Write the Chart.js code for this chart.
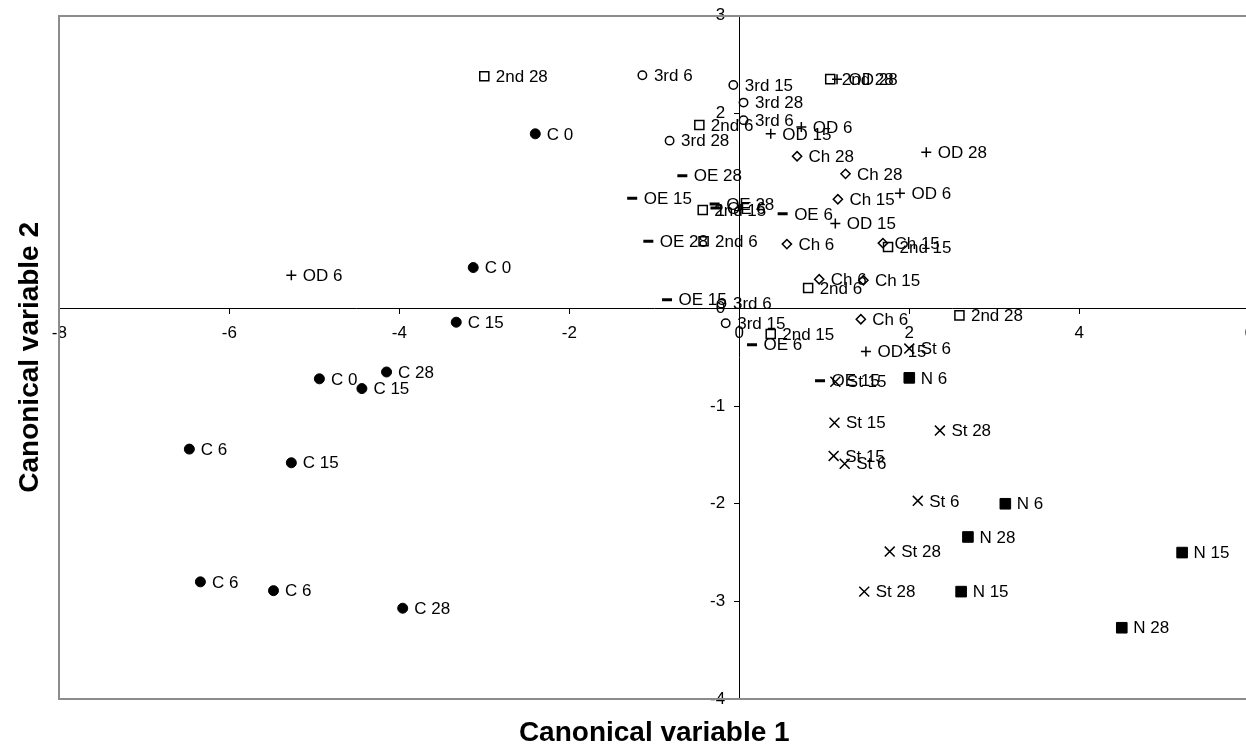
<!DOCTYPE html>
<html>
<head>
<meta charset="utf-8">
<script src="https://cdn.jsdelivr.net/npm/chart.js@4/dist/chart.umd.min.js"></script>
<style>
  html, body { margin: 0; padding: 0; background: #fff; overflow: hidden; }
  #wrap { width: 1264px; height: 749px; }
</style>
</head>
<body>
<div id="wrap"><canvas id="c" width="1264" height="749"></canvas></div>
<script>
// ---- Data ----
const xTickStep = 2;
const yTickStep = 1;
const xRange = [-8, 6];
const yRange = [-4, 3];
const xTitle = 'Canonical variable 1';
const yTitle = 'Canonical variable 2';

const cX = [-2.40, -3.13, -3.33, -4.94, -4.15, -4.44, -6.47, -5.27, -6.34, -5.48, -3.96];
const cY = [1.79, 0.42, -0.14, -0.72, -0.65, -0.82, -1.44, -1.58, -2.80, -2.89, -3.07];
const cLabels = ['C 0', 'C 0', 'C 15', 'C 0', 'C 28', 'C 15', 'C 6', 'C 15', 'C 6', 'C 6', 'C 28'];

const thirdX = [-1.14, -0.82, -0.07, 0.05, 0.05, -0.21, -0.16];
const thirdY = [2.39, 1.72, 2.29, 2.11, 1.93, 0.05, -0.15];
const thirdLabels = ['3rd 6', '3rd 28', '3rd 15', '3rd 28', '3rd 6', '3rd 6', '3rd 15'];

const secondX = [-3.00, -0.47, 1.07, -0.43, -0.42, 1.75, 0.81, 0.37, 2.59];
const secondY = [2.38, 1.88, 2.35, 1.01, 0.69, 0.63, 0.21, -0.26, -0.07];
const secondLabels = ['2nd 28', '2nd 6', '2nd 28', '2nd 15', '2nd 6', '2nd 15', '2nd 6', '2nd 15', '2nd 28'];

const oeX = [-0.67, -1.26, -0.29, -0.28, 0.51, -1.07, -0.85, 0.15, 0.95];
const oeY = [1.36, 1.13, 1.07, 1.03, 0.97, 0.69, 0.09, -0.37, -0.74];
const oeLabels = ['OE 28', 'OE 15', 'OE 28', 'OE 6', 'OE 6', 'OE 28', 'OE 15', 'OE 6', 'OE 15'];

const odX = [-5.27, 1.15, 0.37, 0.73, 2.20, 1.89, 1.13, 1.49];
const odY = [0.34, 2.35, 1.79, 1.86, 1.60, 1.18, 0.87, -0.44];
const odLabels = ['OD 6', 'OD 28', 'OD 15', 'OD 6', 'OD 28', 'OD 6', 'OD 15', 'OD 15'];

const chX = [0.68, 1.25, 1.16, 0.56, 1.69, 0.94, 1.46, 1.43];
const chY = [1.56, 1.38, 1.12, 0.66, 0.67, 0.30, 0.29, -0.11];
const chLabels = ['Ch 28', 'Ch 28', 'Ch 15', 'Ch 6', 'Ch 15', 'Ch 6', 'Ch 15', 'Ch 6'];

const stX = [2.00, 1.13, 1.12, 2.36, 1.11, 1.24, 2.10, 1.77, 1.47];
const stY = [-0.41, -0.75, -1.17, -1.25, -1.51, -1.59, -1.97, -2.49, -2.90];
const stLabels = ['St 6', 'St 15', 'St 15', 'St 28', 'St 15', 'St 6', 'St 6', 'St 28', 'St 28'];

const nX = [2.00, 3.13, 2.69, 5.21, 2.61, 4.50];
const nY = [-0.71, -2.00, -2.34, -2.50, -2.90, -3.27];
const nLabels = ['N 6', 'N 6', 'N 28', 'N 15', 'N 15', 'N 28'];

// ---- Build datasets ----
const FONT = '"Liberation Sans", Arial, Helvetica, sans-serif';
const clear = 'rgba(0,0,0,0)';
function pts(xs, ys) { return xs.map((x, i) => ({ x: x, y: ys[i] })); }
function series(name, xs, ys, labels, style) {
  return Object.assign({
    label: name,
    data: pts(xs, ys),
    pointLabels: labels,
    xAxisID: 'x',
    yAxisID: 'y',
    showLine: false,
    borderColor: '#000',
    pointBorderColor: '#000',
    pointHoverRadius: 0
  }, style);
}

const datasets = [
  series('C', cX, cY, cLabels, { pointStyle: 'circle', pointRadius: 5, pointBackgroundColor: '#000', pointBorderWidth: 1 }),
  series('3rd', thirdX, thirdY, thirdLabels, { pointStyle: 'circle', pointRadius: 4.2, pointBackgroundColor: clear, pointBorderWidth: 1.5 }),
  series('2nd', secondX, secondY, secondLabels, { pointStyle: 'rect', pointRadius: 6.4, pointBackgroundColor: clear, pointBorderWidth: 1.5 }),
  series('OE', oeX, oeY, oeLabels, { pointStyle: 'line', pointRadius: 5, pointBackgroundColor: '#000', pointBorderWidth: 3 }),
  series('OD', odX, odY, odLabels, { pointStyle: 'cross', pointRadius: 5, pointBackgroundColor: clear, pointBorderWidth: 1.5 }),
  series('Ch', chX, chY, chLabels, { pointStyle: 'rectRot', pointRadius: 4.6, pointBackgroundColor: clear, pointBorderWidth: 1.5 }),
  series('St', stX, stY, stLabels, { pointStyle: 'crossRot', pointRadius: 7, pointBackgroundColor: clear, pointBorderWidth: 1.5 }),
  series('N', nX, nY, nLabels, { pointStyle: 'rect', pointRadius: 7.5, pointBackgroundColor: '#000', pointBorderWidth: 1 })
];

// ---- Point label plugin (positions come from the library's elements) ----
const pointLabelPlugin = {
  id: 'pointLabelPlugin',
  afterDatasetsDraw(chart) {
    const ctx = chart.ctx;
    ctx.save();
    ctx.font = '17px ' + FONT;
    ctx.fillStyle = '#000';
    ctx.textAlign = 'left';
    ctx.textBaseline = 'middle';
    chart.data.datasets.forEach((ds, i) => {
      const meta = chart.getDatasetMeta(i);
      meta.data.forEach((el, j) => {
        ctx.fillText(ds.pointLabels[j], el.x + 11.5, el.y + 1);
      });
    });
    ctx.restore();
  }
};

const tickFont = { family: FONT, size: 17 };
const titleFont = { family: FONT, size: 28, weight: 'bold', lineHeight: 1.1 };
const frameColor = '#8c8c8c';

new Chart(document.getElementById('c'), {
  type: 'scatter',
  data: { datasets: datasets },
  options: {
    responsive: false,
    animation: false,
    devicePixelRatio: 1,
    layout: { padding: { left: 0, top: 15.7, right: 7, bottom: 0 } },
    plugins: { legend: { display: false }, tooltip: { enabled: false } },
    events: [],
    scales: {
      x: {
        type: 'linear', axis: 'x', min: xRange[0], max: xRange[1],
        position: { y: 0 },
        ticks: { stepSize: xTickStep, color: '#000', font: tickFont, padding: 10, maxRotation: 0, autoSkip: false },
        grid: { display: true, drawOnChartArea: false, drawTicks: true, tickLength: 5, tickColor: '#000', tickWidth: 1 },
        border: { display: true, color: '#000', width: 1 }
      },
      y: {
        type: 'linear', axis: 'y', min: yRange[0], max: yRange[1],
        position: { x: 0 },
        ticks: {
          stepSize: yTickStep, color: '#000', font: tickFont, padding: 0, autoSkip: false,
          // trailing spaces keep the right-aligned label clear of the tick mark
          callback: (v) => v + '   '
        },
        grid: { display: true, drawOnChartArea: false, drawTicks: true, tickLength: 5, tickColor: '#000', tickWidth: 1 },
        border: { display: true, color: '#000', width: 1 }
      },
      xTitleAxis: {
        type: 'linear', axis: 'x', position: 'bottom', min: xRange[0], max: xRange[1],
        ticks: { display: false },
        grid: { display: false, drawTicks: false },
        border: { display: true, color: frameColor, width: 2 },
        title: { display: true, text: xTitle, color: '#000', font: titleFont, padding: { top: 19.2, bottom: 0 } }
      },
      yTitleAxis: {
        type: 'linear', axis: 'y', position: 'left', min: yRange[0], max: yRange[1],
        ticks: { display: false },
        grid: { display: false, drawTicks: false },
        border: { display: true, color: frameColor, width: 2 },
        title: { display: true, text: yTitle, color: '#000', font: titleFont, padding: { top: 14.6, bottom: 13.9 } }
      },
      xFrameTop: {
        type: 'linear', axis: 'x', position: 'top', min: xRange[0], max: xRange[1],
        ticks: { display: false },
        grid: { display: false, drawTicks: false },
        border: { display: true, color: frameColor, width: 2 }
      }
    }
  },
  plugins: [pointLabelPlugin]
});
</script>
</body>
</html>
